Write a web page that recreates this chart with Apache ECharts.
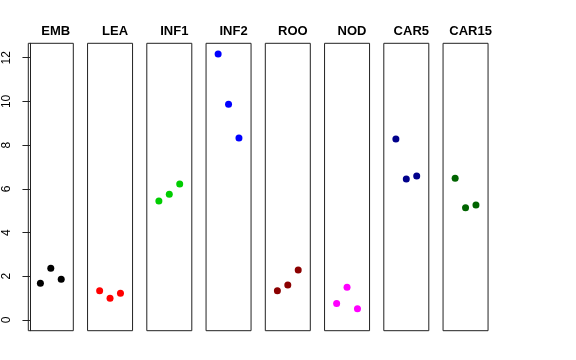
<!DOCTYPE html>
<html><head><meta charset="utf-8">
<script src="https://cdn.jsdelivr.net/npm/echarts@6/dist/echarts.min.js"></script>
<style>html,body{margin:0;padding:0;background:#fff}#c{width:576px;height:360px}</style>
</head><body><div id="c"></div>
<script>
const categories = ['EMB','LEA','INF1','INF2','ROO','NOD','CAR5','CAR15'];
const colors = ['#000000','#FF0000','#00CD00','#0000FF','#8B0000','#FF00FF','#00008B','#006400'];
const values = {
  EMB:  [1.68, 2.37, 1.86],
  LEA:  [1.34, 0.99, 1.22],
  INF1: [5.44, 5.75, 6.22],
  INF2: [12.17, 9.87, 8.33],
  ROO:  [1.34, 1.60, 2.29],
  NOD:  [0.76, 1.50, 0.52],
  CAR5: [8.28, 6.45, 6.59],
  CAR15:[6.48, 5.14, 5.26]
};
const yTicks = [0, 2, 4, 6, 8, 10, 12];
const xPos = [1, 2, 3];

const panelLeft = 28.3, panelStep = 59.25, panelW = 45, panelTop = 43.3, panelH = 287.4;
const grids = [], xAxes = [], yAxes = [], series = [], titles = [];
categories.forEach((cat, i) => {
  const left = panelLeft + i * panelStep;
  grids.push({left: left, top: panelTop, width: panelW, height: panelH, show: true,
    borderColor: '#222', borderWidth: 1, backgroundColor: 'transparent'});
  xAxes.push({type: 'value', gridIndex: i, min: -0.16, max: 4.16, show: false});
  yAxes.push({type: 'value', gridIndex: i, min: -0.49, max: 12.66, show: i === 0,
    splitLine: {show: false},
    axisLine: {show: i === 0, lineStyle: {color: '#222'}},
    axisTick: {show: i === 0, length: 7.5, customValues: yTicks, lineStyle: {color: '#222'}},
    axisLabel: {show: i === 0, customValues: yTicks, rotate: 90, margin: 16,
      fontFamily: 'Liberation Sans', fontSize: 12, color: '#000'}});
  series.push({type: 'scatter', xAxisIndex: i, yAxisIndex: i, symbolSize: 7,
    itemStyle: {color: colors[i], opacity: 1},
    data: values[cat].map((v, k) => [xPos[k], v]), silent: true});
  titles.push({text: cat, left: left + panelW / 2, top: 20, textAlign: 'center',
    textStyle: {fontFamily: 'Liberation Sans', fontWeight: 'bold', fontSize: 13, color: '#000'}});
});

const chart = echarts.init(document.getElementById('c'), null, {renderer: 'canvas'});
chart.setOption({animation: false, title: titles, grid: grids, xAxis: xAxes, yAxis: yAxes, series: series});
</script></body></html>
